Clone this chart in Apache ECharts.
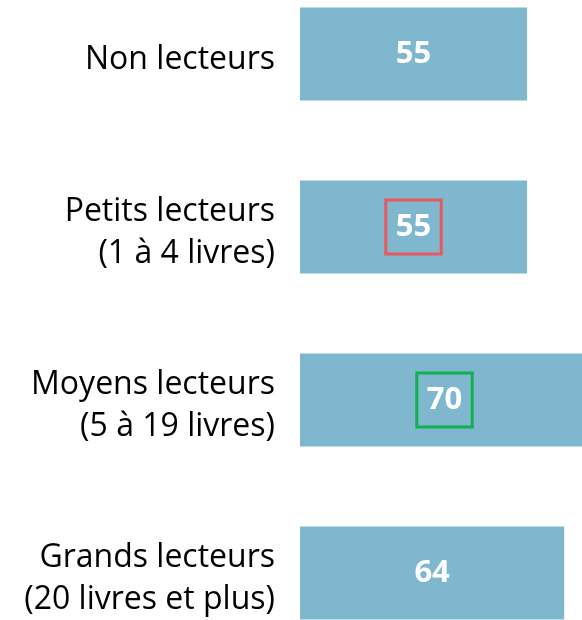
<!DOCTYPE html>
<html>
<head>
<meta charset="utf-8">
<script src="https://cdn.jsdelivr.net/npm/echarts@6/dist/echarts.min.js"></script>
<style>
  html, body { margin: 0; padding: 0; background: #ffffff; }
  #chart { width: 582px; height: 620px; }
</style>
</head>
<body>
<div id="chart"></div>
<script>
// Reader groups and their scores
const categories = [
  'Non lecteurs',
  'Petits lecteurs\n(1 à 4 livres)',
  'Moyens lecteurs\n(5 à 19 livres)',
  'Grands lecteurs\n(20 livres et plus)'
];
const values = [55, 55, 70, 64];
// Highlight frame colour per bar (null = no frame)
const highlights = [null, '#E8585F', '#12B050', null];

const FONT = '"Open Sans", "Noto Sans", sans-serif';

const seriesData = values.map((v, i) => {
  const item = { value: v };
  if (highlights[i]) {
    item.label = {
      borderColor: highlights[i],
      borderWidth: 3,
      padding: [9, 10, 9, 10]
    };
  }
  return item;
});

const chart = echarts.init(document.getElementById('chart'), null, { renderer: 'canvas' });
chart.setOption({
  animation: false,
  backgroundColor: '#ffffff',
  grid: [
    // bars
    { left: 300, right: -7, top: -32.5, bottom: -39.5, containLabel: false, outerBoundsMode: 'none' },
    // category names, set a few pixels lower than the bar centres
    { left: 300, right: -7, top: -26.5, bottom: -45.5, containLabel: false, outerBoundsMode: 'none' }
  ],
  xAxis: [
    { type: 'value', gridIndex: 0, min: 0, max: 70, show: false },
    { type: 'value', gridIndex: 1, min: 0, max: 70, show: false }
  ],
  yAxis: [
    {
      type: 'category',
      gridIndex: 0,
      inverse: true,
      data: categories,
      axisLine: { show: false },
      axisTick: { show: false },
      splitLine: { show: false },
      axisLabel: { show: false }
    },
    {
      type: 'category',
      gridIndex: 1,
      inverse: true,
      data: categories,
      axisLine: { show: false },
      axisTick: { show: false },
      splitLine: { show: false },
      axisLabel: {
        margin: 25,
        align: 'right',
        color: '#000000',
        fontSize: 32,
        lineHeight: 42,
        fontFamily: FONT
      }
    }
  ],
  series: [{
    type: 'bar',
    xAxisIndex: 0,
    yAxisIndex: 0,
    data: seriesData,
    barWidth: 93,
    itemStyle: { color: '#7FB8CE' },
    label: {
      show: true,
      position: 'inside',
      color: '#ffffff',
      fontSize: 31,
      fontWeight: 'bold',
      fontFamily: FONT,
      lineHeight: 36
    }
  }]
});
</script>
</body>
</html>
